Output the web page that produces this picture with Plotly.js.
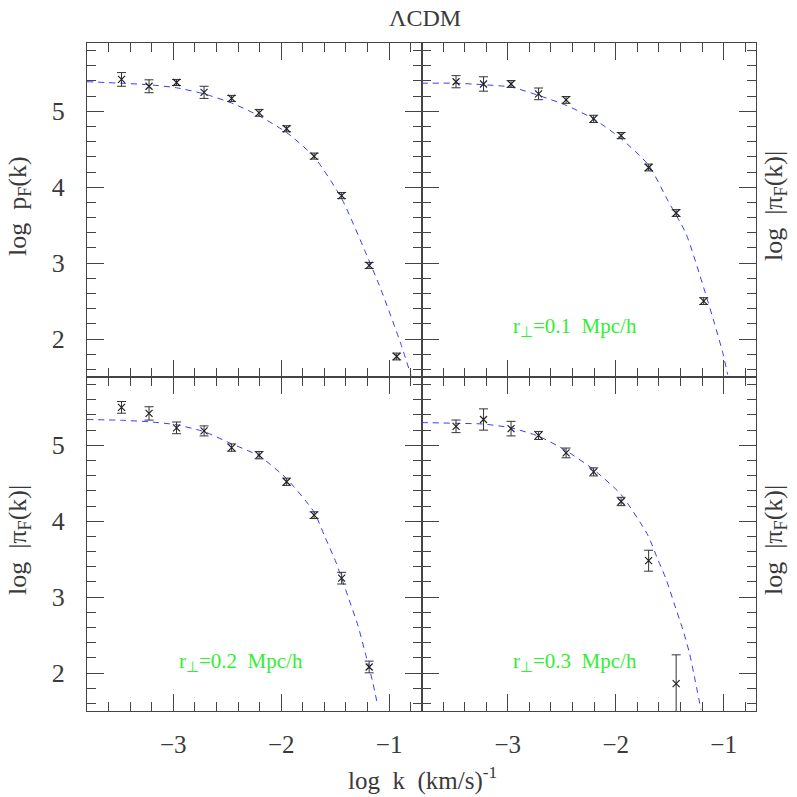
<!DOCTYPE html>
<html>
<head>
<meta charset="utf-8">
<script src="https://cdn.plot.ly/plotly-3.0.1.min.js"></script>
<style>html,body{margin:0;padding:0;background:#fff;}#chart{width:797px;height:797px;}</style>
</head>
<body>
<div id="chart"></div>
<script>
// ---- data (log k in (km/s)^-1, log power) ----
const kTL = [-3.48,-3.225,-2.97,-2.715,-2.46,-2.205,-1.95,-1.695,-1.44,-1.185,-0.93];
const pTL = [5.42,5.33,5.38,5.25,5.17,4.98,4.77,4.41,3.89,2.97,1.77];
const eTL = [0.09,0.085,0.04,0.08,0.04,0.045,0.04,0.04,0.04,0.04,0.045];

const kTR = [-3.48,-3.225,-2.97,-2.715,-2.46,-2.205,-1.95,-1.695,-1.44,-1.185];
const pTR = [5.39,5.36,5.36,5.23,5.15,4.90,4.68,4.26,3.66,2.50];
const eTR = [0.08,0.095,0.045,0.077,0.045,0.048,0.04,0.045,0.045,0.045];

const kBL = [-3.48,-3.225,-2.97,-2.715,-2.46,-2.205,-1.95,-1.695,-1.44,-1.185];
const pBL = [5.50,5.42,5.23,5.19,4.97,4.87,4.52,4.08,3.25,2.08];
const eBL = [0.077,0.088,0.077,0.066,0.048,0.048,0.048,0.044,0.077,0.077];

const kBR = [-3.48,-3.225,-2.97,-2.715,-2.46,-2.205,-1.95,-1.695,-1.44];
const pBR = [5.25,5.34,5.22,5.13,4.90,4.65,4.26,3.48,1.86];
const eBR = [0.083,0.14,0.096,0.053,0.064,0.053,0.055,0.138,0.38];

// model curves (dashed)
const mkTL = [-3.8,-3.48,-3.225,-2.97,-2.715,-2.46,-2.205,-1.95,-1.695,-1.44,-1.215,-1.075,-0.89,-0.797];
const mpTL = [5.39,5.37,5.35,5.31,5.23,5.11,4.94,4.72,4.40,3.85,3.13,2.65,1.93,1.52];

const mkTR = [-3.8,-3.48,-3.225,-2.97,-2.715,-2.46,-2.205,-1.95,-1.695,-1.519,-1.349,-1.179,-1.086,-1.008,-0.962];
const mpTR = [5.37,5.37,5.35,5.32,5.21,5.08,4.90,4.64,4.29,3.83,3.39,2.65,2.21,1.82,1.53];

const mkBL = [-3.8,-3.48,-3.225,-2.97,-2.715,-2.46,-2.205,-1.95,-1.695,-1.60,-1.493,-1.384,-1.29,-1.215,-1.152,-1.106];
const mpBL = [5.34,5.33,5.31,5.27,5.18,5.02,4.86,4.56,4.12,3.81,3.46,3.02,2.63,2.23,1.88,1.57];

const mkBR = [-3.8,-3.48,-3.225,-2.97,-2.715,-2.46,-2.205,-1.95,-1.704,-1.611,-1.534,-1.457,-1.38,-1.318,-1.272,-1.21];
const mpBR = [5.30,5.29,5.28,5.23,5.12,4.93,4.68,4.35,3.82,3.50,3.24,2.91,2.58,2.27,1.96,1.52];

const panelLabels = ["r<sub>⊥</sub>=0.1  Mpc/h", "r<sub>⊥</sub>=0.2  Mpc/h", "r<sub>⊥</sub>=0.3  Mpc/h"];
const plotTitle = "ΛCDM";
const xTitle = "log  k  (km/s)<sup>-1</sup>";
const yTitleP = "log  p<sub>F</sub>(k)";
const yTitlePi = "log  |π<sub>F</sub>(k)|";

// ---- styling ----
const FONT = "Liberation Serif";
const TXT = "#3a3a3a";
const AX = "#444";
const BLUE = "#3a3aff";
const GREEN = "#33ee33";

function curve(x, y, xa, ya) {
  return {x: x, y: y, xaxis: xa, yaxis: ya, type: "scatter", mode: "lines",
    line: {color: BLUE, width: 1, dash: "6px,5px", shape: "spline", smoothing: 0.6},
    hoverinfo: "skip", cliponaxis: true};
}
function pts(x, y, e, xa, ya) {
  return {x: x, y: y, xaxis: xa, yaxis: ya, type: "scatter", mode: "markers",
    marker: {symbol: "x-thin-open", size: 7, color: "#222", line: {color: "#222", width: 1.2}},
    error_y: {type: "data", array: e, visible: true, color: "#333", thickness: 1, width: 4.5}};
}

const traces = [
  curve(mkBL, mpBL, "x", "y"), pts(kBL, pBL, eBL, "x", "y"),
  curve(mkBR, mpBR, "x2", "y2"), pts(kBR, pBR, eBR, "x2", "y2"),
  curve(mkTL, mpTL, "x3", "y3"), pts(kTL, pTL, eTL, "x3", "y3"),
  curve(mkTR, mpTR, "x4", "y4"), pts(kTR, pTR, eTR, "x4", "y4")
];

function xax(dom, anchor, labels) {
  return {domain: dom, anchor: anchor, range: [-3.8, -0.7], dtick: 1, tick0: 0,
    ticks: "inside", ticklen: 17, tickwidth: 1, tickcolor: AX, mirror: "allticks",
    showline: true, linecolor: AX, linewidth: 1, showgrid: false, zeroline: false,
    showticklabels: labels, tickfont: {family: FONT, size: 25, color: TXT},
    ticklabelstandoff: 11,
    minor: {dtick: 0.2, tick0: 0, ticks: "inside", ticklen: 9, tickwidth: 1, tickcolor: AX, showgrid: false}};
}
function yax(dom, anchor, labels) {
  return {domain: dom, anchor: anchor, range: [1.5, 5.9], dtick: 1, tick0: 0,
    ticks: "inside", ticklen: 17, tickwidth: 1, tickcolor: AX, mirror: "allticks",
    showline: true, linecolor: AX, linewidth: 1, showgrid: false, zeroline: false,
    showticklabels: labels, tickfont: {family: FONT, size: 26, color: TXT},
    ticklabelstandoff: 16,
    minor: {dtick: 0.2, tick0: 0, ticks: "inside", ticklen: 9, tickwidth: 1, tickcolor: AX, showgrid: false}};
}

// paper coordinate helpers (margins l=87 r=41 t=43 b=86)
const W = 797 - 87 - 41, H = 797 - 43 - 86;
const px = v => (v - 87) / W;
const py = v => (711 - v) / H;

function ann(text, x, y, size, color, angle) {
  return {text: text, xref: "paper", yref: "paper", x: px(x), y: py(y),
    xanchor: "center", yanchor: "middle", showarrow: false, textangle: angle || 0,
    font: {family: FONT, size: size, color: color}};
}

const layout = {
  width: 797, height: 797,
  margin: {l: 87, r: 41, t: 43, b: 86, pad: 0},
  paper_bgcolor: "#fff", plot_bgcolor: "#fff",
  showlegend: false,
  font: {family: FONT, color: TXT},
  xaxis: xax([0, 0.5], "y", true),
  xaxis2: xax([0.5, 1], "y2", true),
  xaxis3: xax([0, 0.5], "y3", false),
  xaxis4: xax([0.5, 1], "y4", false),
  yaxis: yax([0, 0.5], "x", true),
  yaxis2: yax([0, 0.5], "x2", false),
  yaxis3: yax([0.5, 1], "x3", true),
  yaxis4: yax([0.5, 1], "x4", false),
  annotations: [
    ann(plotTitle, 425, 18, 24, TXT),
    ann(xTitle, 422, 778, 25, TXT),
    ann(yTitleP, 19, 206, 26, TXT, -90),
    ann(yTitlePi, 19, 540, 26, TXT, -90),
    ann(yTitlePi, 775, 206, 26, TXT, -90),
    ann(yTitlePi, 775, 540, 26, TXT, -90),
    ann(panelLabels[0], 575, 327, 21, GREEN),
    ann(panelLabels[1], 241, 662, 21, GREEN),
    ann(panelLabels[2], 575, 662, 21, GREEN)
  ]
};

Plotly.newPlot("chart", traces, layout, {displayModeBar: false, staticPlot: true});
</script>
</body>
</html>
